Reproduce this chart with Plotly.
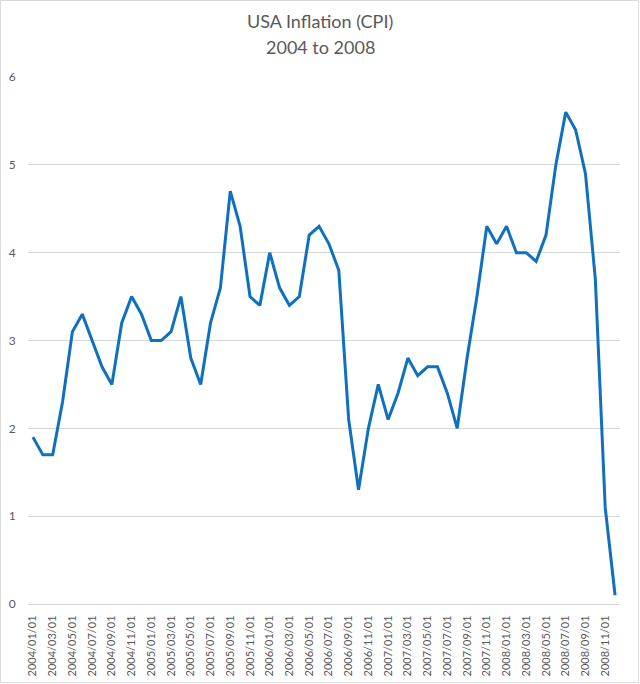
import plotly.graph_objects as go

months = [f"{y}/{m:02d}/01" for y in range(2004, 2009) for m in range(1, 13)]
cpi = [
    1.9, 1.7, 1.7, 2.3, 3.1, 3.3, 3.0, 2.7, 2.5, 3.2, 3.5, 3.3,
    3.0, 3.0, 3.1, 3.5, 2.8, 2.5, 3.2, 3.6, 4.7, 4.3, 3.5, 3.4,
    4.0, 3.6, 3.4, 3.5, 4.2, 4.3, 4.1, 3.8, 2.1, 1.3, 2.0, 2.5,
    2.1, 2.4, 2.8, 2.6, 2.7, 2.7, 2.4, 2.0, 2.8, 3.5, 4.3, 4.1,
    4.3, 4.0, 4.0, 3.9, 4.2, 5.0, 5.6, 5.4, 4.9, 3.7, 1.1, 0.1,
]
tick_labels = months[::2]
y_ticks = [0, 1, 2, 3, 4, 5, 6]
title_lines = ["USA Inflation (CPI)", "2004 to 2008"]

W, H = 640, 684
L, R, T, B = 28, 20, 77, 80
pw = W - L - R
ph = H - T - B

fig = go.Figure()
fig.add_trace(go.Scatter(
    x=months, y=cpi, mode="lines",
    line=dict(color="#0f70c0", width=3),
    hoverinfo="x+y",
))

fig.add_shape(type="rect", xref="paper", yref="paper",
              x0=(0.5 - L) / pw, x1=(W - 1.5 - L) / pw,
              y0=-(B - 1.5) / ph, y1=1 + (T - 0.5) / ph,
              line=dict(color="#d9d9d9", width=1), fillcolor="rgba(0,0,0,0)",
              layer="above")

for i, (txt, ypx) in enumerate(zip(title_lines, [21, 47])):
    fig.add_annotation(text=txt, xref="paper", yref="paper",
                       x=(W / 2 - L) / pw, y=1 + (T - ypx) / ph,
                       xanchor="center", yanchor="middle", showarrow=False,
                       font=dict(size=18, color="#595959"))

fig.update_layout(
    width=W, height=H,
    margin=dict(l=L, r=R, t=T, b=B),
    paper_bgcolor="white", plot_bgcolor="white",
    font=dict(family="Lato, 'Open Sans', sans-serif", color="#595959"),
    showlegend=False,
    xaxis=dict(
        type="category", range=[-0.5, 59.5], automargin=False,
        tickmode="array", tickvals=tick_labels, ticktext=tick_labels,
        tickangle=-90, tickfont=dict(size=11, color="#595959"),
        showgrid=False, showline=True, linecolor="#d9d9d9", linewidth=1,
        ticks="outside", ticklen=6, tickcolor="rgba(0,0,0,0)", zeroline=False,
    ),
    yaxis=dict(
        range=[0, 6], tickvals=y_ticks, automargin=False,
        ticks="outside", ticklen=9, tickcolor="rgba(0,0,0,0)",
        tickfont=dict(size=12, color="#595959"),
        showgrid=True, gridcolor="#d9d9d9", gridwidth=1,
        zeroline=False, showline=False,
    ),
)

fig.write_html("out.html")
